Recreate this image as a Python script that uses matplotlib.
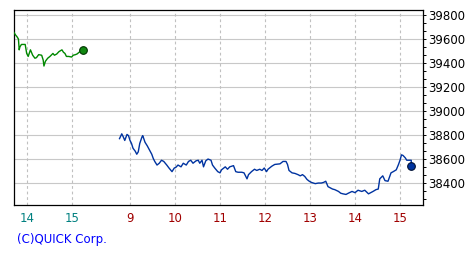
import matplotlib
matplotlib.use('Agg')
import matplotlib.pyplot as plt
from matplotlib.ticker import MultipleLocator

# ---- data (prev. day afternoon + today's day session) ----
prev_times = ['13:43', '13:45', '13:47', '13:49', '13:50', '13:51', '13:53', '13:58',
              '14:00', '14:02', '14:05', '14:08', '14:11', '14:13', '14:16', '14:20',
              '14:22', '14:23', '14:25', '14:28', '14:31', '14:35', '14:37', '14:40',
              '14:43', '14:47', '14:49', '14:51', '14:53', '14:56', '15:00', '15:02',
              '15:05', '15:07', '15:10', '15:15']
prev_prices = [39655, 39635, 39620, 39600, 39510, 39535, 39555, 39555,
               39480, 39455, 39510, 39465, 39440, 39445, 39470, 39465,
               39425, 39375, 39415, 39440, 39455, 39480, 39465, 39475,
               39495, 39510, 39490, 39480, 39455, 39455, 39450, 39465,
               39470, 39475, 39490, 39510]
prev_close = 39510

today_times = ['08:46', '08:49', '08:51', '08:53', '08:56', '08:58', '09:00', '09:02',
               '09:04', '09:07', '09:09', '09:11', '09:13', '09:16', '09:17', '09:20',
               '09:23', '09:26', '09:29', '09:31', '09:33', '09:36', '09:39', '09:42',
               '09:45', '09:49', '09:52', '09:56', '09:59', '10:01', '10:04', '10:08',
               '10:11', '10:15', '10:18', '10:21', '10:24', '10:28', '10:31', '10:33',
               '10:36', '10:38', '10:41', '10:44', '10:48', '10:50', '10:53', '10:57',
               '11:00', '11:02', '11:07', '11:10', '11:13', '11:18', '11:21', '11:24',
               '11:29', '11:32', '11:36', '11:38', '11:42', '11:46', '11:49', '11:53',
               '11:56', '11:59', '12:02', '12:04', '12:09', '12:13', '12:20', '12:24',
               '12:28', '12:30', '12:32', '12:36', '12:40', '12:44', '12:47', '12:50',
               '12:53', '12:56', '12:59', '13:02', '13:07', '13:11', '13:15', '13:18',
               '13:21', '13:24', '13:27', '13:30', '13:33', '13:38', '13:41', '13:44',
               '13:48', '13:51', '13:56', '14:00', '14:04', '14:09', '14:13', '14:18',
               '14:21', '14:24', '14:28', '14:31', '14:33', '14:37', '14:40', '14:44',
               '14:48', '14:51', '14:55', '14:58', '15:00', '15:02', '15:04', '15:07',
               '15:09', '15:12', '15:15', '15:15']
today_prices = [38770, 38810, 38785, 38755, 38805, 38795, 38755, 38730,
                38690, 38665, 38640, 38660, 38730, 38785, 38795, 38740,
                38710, 38675, 38640, 38605, 38580, 38550, 38565, 38590,
                38580, 38550, 38525, 38495, 38525, 38530, 38550, 38535,
                38565, 38550, 38580, 38590, 38565, 38585, 38590, 38565,
                38590, 38535, 38585, 38600, 38590, 38550, 38525, 38495,
                38485, 38510, 38535, 38515, 38535, 38545, 38495, 38490,
                38490, 38485, 38435, 38470, 38495, 38515, 38505, 38515,
                38505, 38525, 38495, 38515, 38540, 38555, 38560, 38580,
                38580, 38555, 38505, 38485, 38480, 38470, 38460, 38470,
                38455, 38430, 38415, 38405, 38395, 38400, 38400, 38405,
                38415, 38370, 38360, 38350, 38345, 38330, 38315, 38310,
                38305, 38315, 38330, 38320, 38340, 38330, 38340, 38310,
                38320, 38330, 38345, 38350, 38435, 38460, 38420, 38415,
                38485, 38495, 38510, 38555, 38590, 38635, 38630, 38610,
                38590, 38590, 38590, 38540]
today_close = 38540

prev_ticks = [14, 15]
today_ticks = [9, 10, 11, 12, 13, 14, 15]
y_ticks = [38400, 38600, 38800, 39000, 39200, 39400, 39600, 39800]

GAP = 2.296  # axis position of today's 9:00, in hours after prev-day 14:00


def to_hours(s):
    h, m = s.split(':')
    return int(h) + int(m) / 60


def prev_pos(h):
    return h - 14


def today_pos(h):
    return h - 9 + GAP


FONT = ['Liberation Sans Narrow', 'DejaVu Sans']
plt.rcParams['font.family'] = FONT

fig = plt.figure(figsize=(4.75, 2.6), dpi=100)
ax = fig.add_axes([14 / 475, 55 / 260, 409 / 475, 195 / 260])

# grid
for y in y_ticks:
    ax.axhline(y, color='#c8c8c8', lw=0.8, zorder=1)
for h in prev_ticks:
    ax.axvline(prev_pos(h), color='#c0c0c0', lw=0.8, ls=(0, (2.5, 2.5)), zorder=1)
for h in today_ticks:
    ax.axvline(today_pos(h), color='#c0c0c0', lw=0.8, ls=(0, (2.5, 2.5)), zorder=1)

px = [prev_pos(to_hours(t)) for t in prev_times]
tx = [today_pos(to_hours(t)) for t in today_times]
ax.plot(px, prev_prices, color='#008800', lw=1.0, zorder=3)
ax.plot(tx, today_prices, color='#0033a0', lw=1.0, zorder=3)
ax.plot(px[-1], prev_close, 'o', ms=5.5, mfc='#118811', mec='#003300', mew=0.8, zorder=4)
ax.plot(tx[-1], today_close, 'o', ms=5.5, mfc='#0033a0', mec='#001133', mew=0.8, zorder=4)

ax.set_xlim(-0.282, 8.807)
ax.set_ylim(38217, 39842)

# right value axis
ax.yaxis.tick_right()
ax.set_yticks(y_ticks)
ax.yaxis.set_minor_locator(MultipleLocator(200 / 3))
ax.tick_params(axis='y', which='both', direction='out', length=2.4, width=0.7,
               pad=1.5, labelsize=8.5, colors='black')

# bottom time axis, coloured per day
xpos = [prev_pos(h) for h in prev_ticks] + [today_pos(h) for h in today_ticks]
ax.set_xticks(xpos)
ax.set_xticklabels([str(h) for h in prev_ticks] + [str(h) for h in today_ticks])
ax.tick_params(axis='x', length=0, pad=5, labelsize=8.5)
for i, lab in enumerate(ax.get_xticklabels()):
    lab.set_color('#008080' if i < len(prev_ticks) else '#a00000')

for s in ax.spines.values():
    s.set_color('black')
    s.set_linewidth(0.9)

fig.text(17 / 475, 1 - 240 / 260, '(C)QUICK Corp.', color='#0000ff',
         fontsize=8.5, ha='left', va='center')

fig.savefig('out.png', dpi=100)
